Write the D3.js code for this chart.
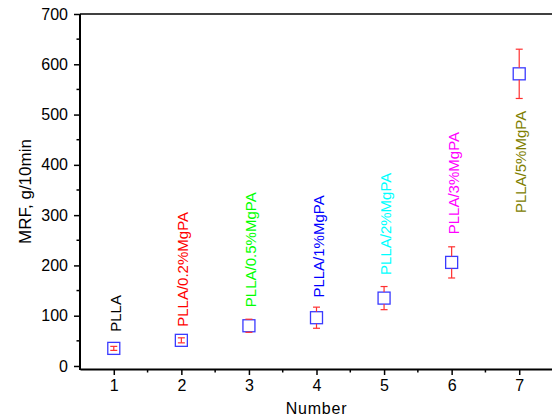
<!DOCTYPE html>
<html><head><meta charset="utf-8">
<script src="https://cdn.jsdelivr.net/npm/d3@7"></script>
<style>body{margin:0;background:#fff}svg{display:block}text{font-family:"Liberation Sans",Arial,sans-serif}</style>
</head><body>
<script>
const numbers = [1,2,3,4,5,6,7];
const samples = ["PLLA","PLLA/0.2%MgPA","PLLA/0.5%MgPA","PLLA/1%MgPA","PLLA/2%MgPA","PLLA/3%MgPA","PLLA/5%MgPA"];
const mrf = [35,51,80,96,135,206,581];
const mrfErr = [4,5,13,21,23,31,49];
const labelAnchors = [68,78,117,136,181,262,304];
const labelColors = ["#000000","#ff0000","#00ff00","#0000ff","#00ffff","#ff00ff","#808000"];
const yTicks = [0,100,200,300,400,500,600,700];
const xTicks = [1,2,3,4,5,6,7];

const W=552,H=418;
const m={l:80,t:14,r:-1,b:49};
const svg=d3.select("body").append("svg").attr("width",W).attr("height",H);
const x=d3.scaleLinear().domain([0.5,7.5]).range([m.l,W-m.r]);
const y=d3.scaleLinear().domain([-6,700]).range([H-m.b,m.t]);

// frame top
svg.append("line").attr("x1",m.l).attr("x2",W+2).attr("y1",m.t).attr("y2",m.t).attr("stroke","#000").attr("stroke-width",1.5);

// minor ticks
const xMinor=d3.range(1.5,7.5,1);
const yMinor=d3.range(50,700,100);
svg.append("g").selectAll("line").data(xMinor).join("line")
  .attr("x1",d=>x(d)).attr("x2",d=>x(d)).attr("y1",H-m.b).attr("y2",H-m.b+3.5).attr("stroke","#000").attr("stroke-width",1.5);
svg.append("g").selectAll("line").data(yMinor).join("line")
  .attr("y1",d=>y(d)).attr("y2",d=>y(d)).attr("x1",m.l).attr("x2",m.l-3.5).attr("stroke","#000").attr("stroke-width",1.5);

const xa=svg.append("g").attr("transform",`translate(0,${H-m.b})`)
  .call(d3.axisBottom(x).tickValues(xTicks).tickSize(6).tickSizeOuter(0).tickPadding(5).tickFormat(d3.format("d")));
const ya=svg.append("g").attr("transform",`translate(${m.l},0)`)
  .call(d3.axisLeft(y).tickValues(yTicks).tickSize(6).tickSizeOuter(0).tickPadding(6));
[xa,ya].forEach(a=>{
  a.select(".domain").attr("stroke-width",2);
  a.selectAll(".tick line").attr("stroke-width",1.5);
  a.selectAll("text").attr("font-size",16).attr("fill","#000").attr("font-family","Liberation Sans, Arial, sans-serif");
});
ya.select(".domain").attr("d",`M0,${H-m.b+1}V${m.t}`);

// axis titles
svg.append("text").attr("x",(m.l+W-m.r)/2).attr("y",414).attr("text-anchor","middle")
  .attr("font-size",16).attr("letter-spacing",0.8).text("Number");
svg.append("text").attr("transform",`translate(31,${(m.t+H-m.b)/2}) rotate(-90)`).attr("text-anchor","middle")
  .attr("font-size",17).text("MRF, g/10min");

// error bars + markers
const half=6, cap=3.5;
const g=svg.append("g");
numbers.forEach((n,i)=>{
  const cx=x(n), cy=y(mrf[i]), top=y(mrf[i]+mrfErr[i]), bot=y(mrf[i]-mrfErr[i]);
  g.append("rect").attr("x",cx-half).attr("y",cy-half).attr("width",2*half).attr("height",2*half)
    .attr("fill","#fff").attr("stroke","#3a3aff").attr("stroke-width",1.3);
  const eb=g.append("g").attr("stroke","#ff3030").attr("stroke-width",1.2);
  if(cy-top>half){
    eb.append("line").attr("x1",cx).attr("x2",cx).attr("y1",top).attr("y2",cy-half);
    eb.append("line").attr("x1",cx).attr("x2",cx).attr("y1",cy+half).attr("y2",bot);
  } else {
    eb.append("line").attr("x1",cx).attr("x2",cx).attr("y1",top).attr("y2",bot);
  }
  eb.append("line").attr("x1",cx-cap).attr("x2",cx+cap).attr("y1",top).attr("y2",top);
  eb.append("line").attr("x1",cx-cap).attr("x2",cx+cap).attr("y1",bot).attr("y2",bot);
});

// sample labels
svg.append("g").selectAll("text").data(samples).join("text")
  .attr("transform",(d,i)=>`translate(${x(numbers[i])+7},${y(labelAnchors[i])}) rotate(-90)`)
  .attr("font-size",15).attr("fill",(d,i)=>labelColors[i]).text(d=>d);
</script>
</body></html>
